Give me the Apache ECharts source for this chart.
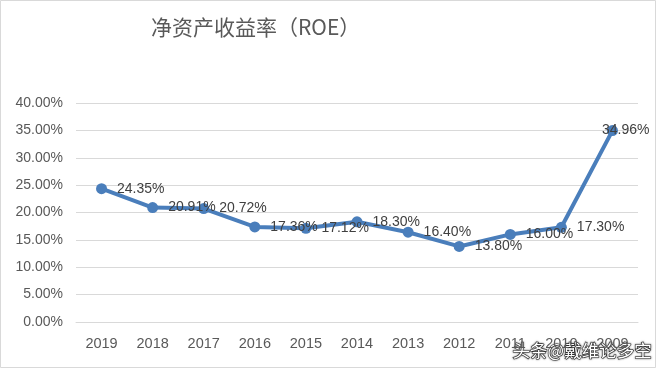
<!DOCTYPE html>
<html><head><meta charset="utf-8">
<script src="https://cdn.jsdelivr.net/npm/echarts@6/dist/echarts.min.js"></script>
<style>html,body{margin:0;padding:0;background:#fff}#c{width:660px;height:369px}</style>
</head><body><div id="c"></div>
<script>
const titleText = '净资产收益率（ROE）';
const categories = ['2019','2018','2017','2016','2015','2014','2013','2012','2011','2010','2009'];
const roeValues = [24.35, 20.91, 20.72, 17.36, 17.12, 18.30, 16.40, 13.80, 16.00, 17.30, 34.96];
const yMin = 0, yMax = 40, yStep = 5;
const watermark = '头条@戴维论多空';

const seriesData = roeValues.map((v, i) => i === roeValues.length - 1
  ? {value: v, label: {offset: [-26, 0]}}
  : v);

const chart = echarts.init(document.getElementById('c'), null, {renderer:'canvas'});
chart.setOption({
  animation: false,
  backgroundColor: '#fff',
  title: {
    text: titleText, left: 146, top: 12,
    textStyle: {fontFamily: 'Noto Sans CJK SC', fontWeight: 'normal', fontSize: 21, color: '#595959'}
  },
  grid: {left: 76, right: 22, top: 103, bottom: 47},
  xAxis: {
    type: 'category', data: categories, boundaryGap: true,
    axisLine: {lineStyle: {color: '#d9d9d9'}}, axisTick: {show: false},
    axisLabel: {color: '#595959', fontSize: 14.5, fontFamily: 'Liberation Sans', margin: 14}
  },
  yAxis: {
    type: 'value', min: yMin, max: yMax, interval: yStep,
    axisLine: {show: false}, axisTick: {show: false},
    splitLine: {lineStyle: {color: '#d9d9d9', width: 1}},
    axisLabel: {color: '#595959', fontSize: 14, fontFamily: 'Liberation Sans', margin: 13,
      formatter: v => v.toFixed(2) + '%'}
  },
  series: [{
    type: 'line', data: seriesData,
    symbol: 'circle', symbolSize: 11,
    lineStyle: {color: '#4a7ebb', width: 4},
    itemStyle: {color: '#4a7ebb'},
    label: {show: true, position: 'right', distance: 10, color: '#404040', fontSize: 14,
      fontFamily: 'Liberation Sans', formatter: p => p.value.toFixed(2) + '%'}
  }],
  graphic: [
    {type: 'rect', shape: {x: 0.5, y: 0.5, width: 655, height: 367},
     style: {fill: null, stroke: '#d9d9d9', lineWidth: 1}},
    {type: 'text', left: 512, top: 341,
     style: {text: watermark, fontSize: 17.5, fontFamily: 'Noto Sans CJK SC', fill: '#ffffff',
       stroke: '#333333', lineWidth: 1.2, textShadowColor: 'rgba(0,0,0,0.5)', textShadowBlur: 2}}
  ]
});
</script></body></html>
